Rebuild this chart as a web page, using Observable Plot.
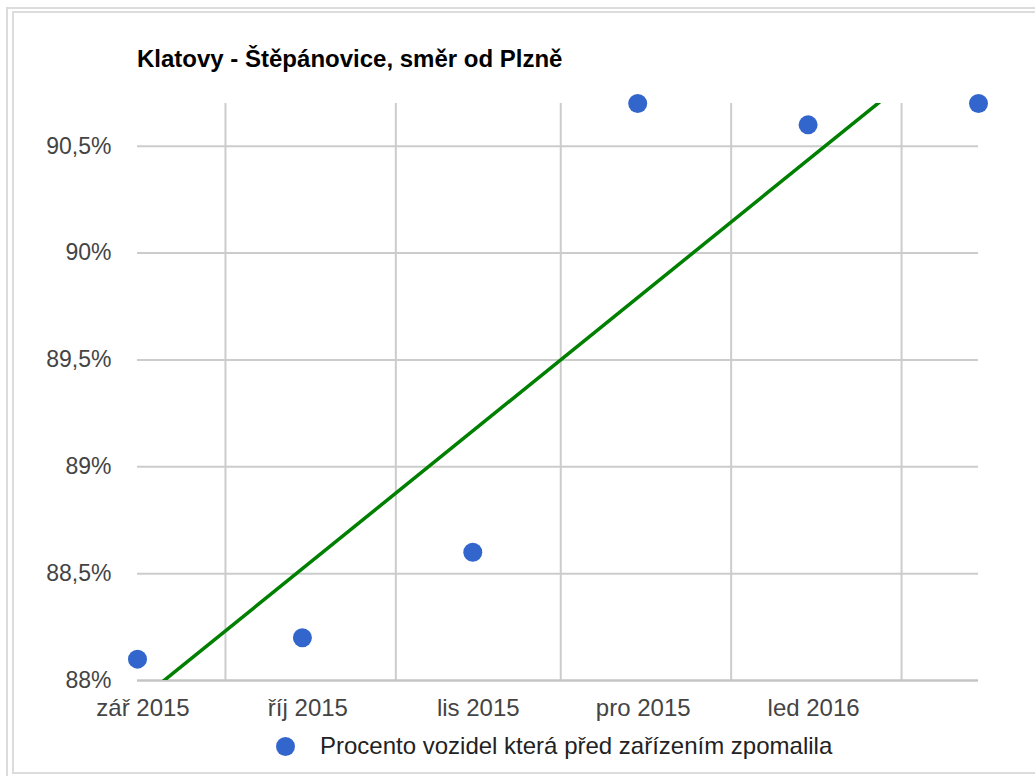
<!DOCTYPE html>
<html>
<head>
<meta charset="utf-8">
<script src="https://cdn.jsdelivr.net/npm/d3@7"></script>
<script src="https://cdn.jsdelivr.net/npm/@observablehq/plot@0.6"></script>
<style>
  html, body { margin: 0; padding: 0; background: #fff; }
  body { width: 1035px; height: 776px; position: relative; overflow: hidden; font-family: "Liberation Sans", Arial, sans-serif; }
  .frame-outer { position: absolute; left: 6px; top: 7px; width: 1100px; height: 800px; border-left: 2px solid #dcdcdc; border-top: 2px solid #dcdcdc; }
  .frame-inner { position: absolute; left: 12px; top: 11px; width: 1100px; height: 759px; border: 2px solid #dcdcdc; }
  #title { position: absolute; left: 137px; top: 45px; font-weight: bold; font-size: 24px; color: #000; white-space: nowrap; }
  #chart { position: absolute; left: 0; top: 80px; }
  #legend { position: absolute; left: 276px; top: 732px; font-size: 24px; color: #222; white-space: nowrap; display: flex; align-items: center; }
  #legend .dot { display: inline-block; width: 19px; height: 19px; border-radius: 50%; background: #3366cc; margin-right: 25px; }
</style>
</head>
<body>
<div class="frame-outer"></div>
<div class="frame-inner"></div>
<div id="title">Klatovy - Štěpánovice, směr od Plzně</div>
<div id="chart"></div>
<div id="legend"><span class="dot"></span><span id="legendText"></span></div>
<script>
// Data
const dates = ["2015-09-15", "2015-10-15", "2015-11-15", "2015-12-15", "2016-01-15", "2016-02-15"];
const values = [88.1, 88.2, 88.6, 90.7, 90.6, 90.7];
const monthStarts = ["2015-10-01", "2015-11-01", "2015-12-01", "2016-01-01", "2016-02-01"];
const tickDates = ["2015-09-16", "2015-10-16", "2015-11-16", "2015-12-16", "2016-01-16"];
const tickLabels = ["zář 2015", "říj 2015", "lis 2015", "pro 2015", "led 2016"];
const yTicks = [88, 88.5, 89, 89.5, 90, 90.5];
const seriesName = "Procento vozidel která před zařízením zpomalila";

const parse = d3.utcParse("%Y-%m-%d");
const data = dates.map((d, i) => ({date: parse(d), value: values[i]}));
const gridDates = monthStarts.map(parse);
const tickDateObjs = tickDates.map(parse);
const labelFor = new Map(tickDateObjs.map((d, i) => [+d, tickLabels[i]]));

document.getElementById("legendText").textContent = seriesName;

const plot = Plot.plot({
  width: 1035,
  height: 650,
  marginLeft: 137,
  marginRight: 57,
  marginTop: 23,
  marginBottom: 50,
  style: { fontFamily: "Liberation Sans, Arial, sans-serif", fontSize: "23px", background: "transparent" },
  x: { type: "utc", domain: [data[0].date, data[data.length - 1].date] },
  y: { domain: [88, 90.7] },
  marks: [
    Plot.gridY(yTicks, { stroke: "#cccccc", strokeOpacity: 1, strokeWidth: 2 }),
    Plot.gridX(gridDates, { stroke: "#cccccc", strokeOpacity: 1, strokeWidth: 2 }),
    Plot.ruleY([88], { stroke: "#c4c4c4", strokeWidth: 2 }),
    Plot.axisY(yTicks, {
      tickSize: 0, tickPadding: 26, label: null,
      tickFormat: d => String(d).replace(".", ",") + "%",
      fill: "#444", fontSize: 23
    }),
    Plot.axisX(tickDateObjs, {
      tickSize: 0, tickPadding: 18, label: null,
      tickFormat: d => labelFor.get(+d),
      fill: "#444", fontSize: 24
    }),
    Plot.linearRegressionY(data, { x: "date", y: "value", stroke: "#008000", strokeWidth: 3.5, ci: 0, clip: true }),
    Plot.dot(data, { x: "date", y: "value", r: 9.5, fill: "#3366cc", stroke: "none" })
  ]
});
document.getElementById("chart").appendChild(plot);
</script>
</body>
</html>
